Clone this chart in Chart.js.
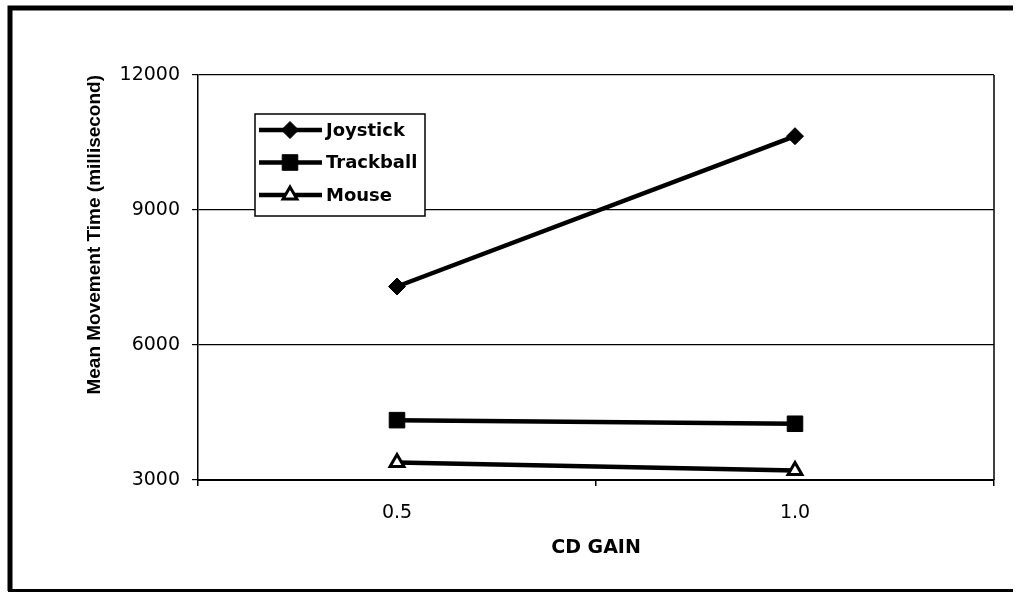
<!DOCTYPE html>
<html>
<head>
<meta charset="utf-8">
<script src="https://cdn.jsdelivr.net/npm/chart.js@4/dist/chart.umd.min.js"></script>
<style>
  html, body { margin: 0; padding: 0; background: #fff; }
  canvas { display: block; }
</style>
</head>
<body>
<canvas id="c" width="1017" height="593"></canvas>
<script>
// ---- data ----
const categories = ['0.5', '1.0'];
const seriesNames = ['Joystick', 'Trackball', 'Mouse'];
const joystick = [7300, 10640];
const trackball = [4330, 4250];
const mouse = [3390, 3210];
const yTickValues = [3000, 6000, 9000, 12000];
const xTitle = 'CD GAIN';
const yTitle = 'Mean Movement Time (millisecond)';

// ---- plugins ----
const framePlugin = {
  id: 'frame',
  beforeDraw(chart) {
    const ctx = chart.ctx;
    ctx.save();
    ctx.fillStyle = '#fff';
    ctx.fillRect(0, 0, chart.width, chart.height);
    ctx.strokeStyle = '#000';
    ctx.lineWidth = 5;
    ctx.beginPath();
    ctx.moveTo(10, 591);
    ctx.lineTo(10, 8);
    ctx.lineTo(1013, 8);
    ctx.stroke();
    ctx.lineWidth = 3;
    ctx.beginPath();
    ctx.moveTo(8, 590.5);
    ctx.lineTo(1013, 590.5);
    ctx.stroke();
    ctx.restore();
  },
  afterDraw(chart) {
    const a = chart.chartArea;
    const ctx = chart.ctx;
    ctx.save();
    ctx.strokeStyle = '#000';
    ctx.lineWidth = 1.5;
    ctx.beginPath();
    ctx.moveTo(a.right, a.top);
    ctx.lineTo(a.right, a.bottom);
    ctx.stroke();
    ctx.restore();
  }
};

const boxLegend = {
  id: 'boxLegend',
  afterDatasetsDraw(chart) {
    const ctx = chart.ctx;
    const box = { x: 255, y: 114, w: 170, h: 102 };
    ctx.save();
    ctx.fillStyle = '#fff';
    ctx.fillRect(box.x, box.y, box.w, box.h);
    ctx.strokeStyle = '#000';
    ctx.lineWidth = 1.5;
    ctx.strokeRect(box.x, box.y, box.w, box.h);
    chart.data.datasets.forEach((ds, i) => {
      const cy = 130 + i * 32.5;
      ctx.strokeStyle = ds.borderColor;
      ctx.lineWidth = ds.borderWidth;
      ctx.beginPath();
      ctx.moveTo(259, cy);
      ctx.lineTo(322, cy);
      ctx.stroke();
      ctx.fillStyle = ds.pointBackgroundColor;
      ctx.strokeStyle = ds.pointBorderColor;
      ctx.lineWidth = ds.pointBorderWidth;
      Chart.helpers.drawPoint(ctx, {
        pointStyle: ds.pointStyle,
        radius: ds.pointRadius,
        rotation: 0,
        borderWidth: ds.pointBorderWidth
      }, 290, cy);
      ctx.fillStyle = '#000';
      ctx.font = 'bold 18px "DejaVu Sans"';
      ctx.textBaseline = 'middle';
      ctx.textAlign = 'left';
      ctx.fillText(ds.label, 326, cy + 1);
    });
    ctx.restore();
  }
};

// ---- chart ----
new Chart(document.getElementById('c'), {
  type: 'line',
  data: {
    labels: categories,
    datasets: [
      {
        label: seriesNames[0], data: joystick,
        borderColor: '#000', borderWidth: 4.5,
        pointStyle: 'rectRot', pointRadius: 8.5,
        pointBackgroundColor: '#000', pointBorderColor: '#000', pointBorderWidth: 1
      },
      {
        label: seriesNames[1], data: trackball,
        borderColor: '#000', borderWidth: 4.5,
        pointStyle: 'rect', pointRadius: 11,
        pointBackgroundColor: '#000', pointBorderColor: '#000', pointBorderWidth: 1
      },
      {
        label: seriesNames[2], data: mouse,
        borderColor: '#000', borderWidth: 4.5,
        pointStyle: 'triangle', pointRadius: 8,
        pointBackgroundColor: '#fff', pointBorderColor: '#000', pointBorderWidth: 3
      }
    ]
  },
  options: {
    responsive: false,
    animation: false,
    devicePixelRatio: 1,
    layout: { padding: { left: 0, top: 75, right: 23, bottom: 0 } },
    plugins: {
      legend: { display: false },
      tooltip: { enabled: false }
    },
    elements: { line: { tension: 0 } },
    scales: {
      x: {
        type: 'category',
        offset: true,
        afterFit(scale) { scale.height = 113; },
        grid: {
          offset: true,
          drawOnChartArea: false,
          drawTicks: true,
          tickLength: 6,
          color: '#000',
          lineWidth: 1.5
        },
        border: { display: true, color: '#000', width: 2 },
        ticks: {
          color: '#000',
          padding: 16,
          font: { family: '"DejaVu Sans"', size: 19 }
        },
        title: {
          display: true,
          text: xTitle,
          color: '#000',
          font: { family: '"DejaVu Sans"', size: 19, weight: 'bold' },
          padding: { top: 0, bottom: 34 }
        }
      },
      y: {
        min: yTickValues[0],
        max: yTickValues[yTickValues.length - 1],
        afterFit(scale) { scale.width = 198; },
        afterBuildTicks(scale) { scale.ticks = yTickValues.map(v => ({ value: v })); },
        grid: {
          color: '#000',
          lineWidth: 1.2,
          drawTicks: true,
          tickLength: 6
        },
        border: { display: true, color: '#000', width: 1.5 },
        ticks: {
          color: '#000',
          padding: 12,
          font: { family: '"DejaVu Sans"', size: 19 },
          callback: (v) => String(v)
        },
        title: {
          display: true,
          text: yTitle,
          align: 'end',
          color: '#000',
          font: { family: '"Liberation Sans"', size: 19, weight: 'bold' },
          padding: { top: 83, bottom: 0 }
        }
      }
    }
  },
  plugins: [framePlugin, boxLegend]
});
</script>
</body>
</html>
